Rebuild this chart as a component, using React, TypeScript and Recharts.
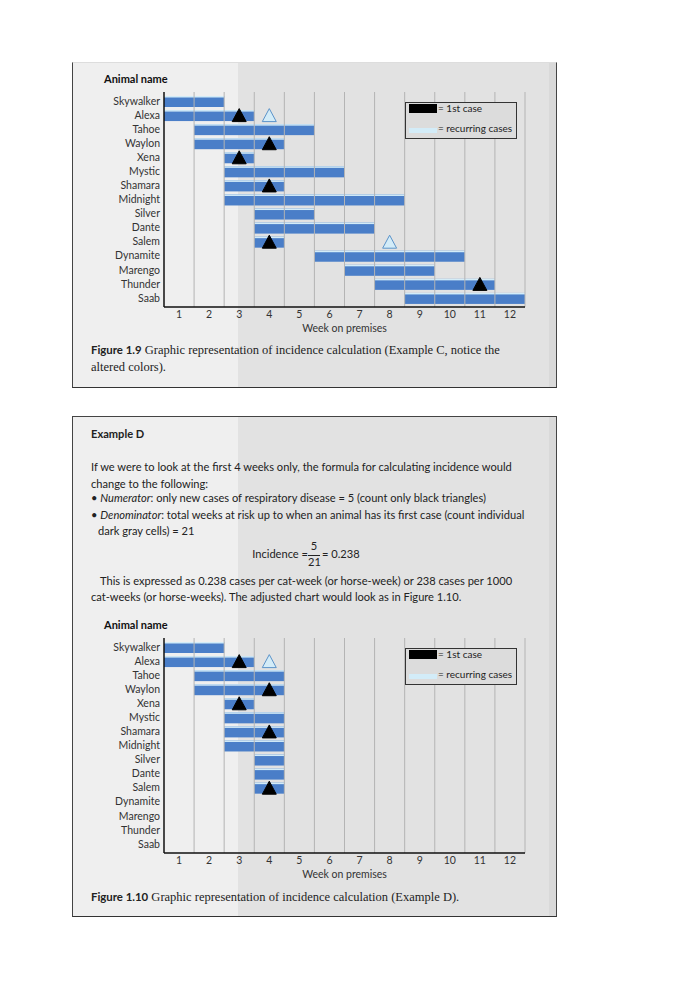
import React from 'react';
import { ComposedChart, Bar, Scatter, XAxis, YAxis, ReferenceLine } from 'recharts';

const animals = ['Skywalker', 'Alexa', 'Tahoe', 'Waylon', 'Xena', 'Mystic', 'Shamara', 'Midnight', 'Silver', 'Dante', 'Salem', 'Dynamite', 'Marengo', 'Thunder', 'Saab'];
const weeks = [1, 2, 3, 4, 5, 6, 7, 8, 9, 10, 11, 12];

// Figure 1.9 - first and last week on premises
const startWeek = [1, 1, 2, 2, 3, 3, 3, 3, 4, 4, 4, 6, 7, 8, 9];
const endWeek19 = [2, 3, 5, 4, 3, 6, 4, 8, 5, 7, 4, 10, 9, 11, 12];
// Figure 1.10 - only up to week 4
const endWeek110 = [2, 3, 4, 4, 3, 4, 4, 4, 4, 4, 4, null, null, null, null];

const firstCase19 = [
  { name: 'Alexa', week: 3 },
  { name: 'Waylon', week: 4 },
  { name: 'Xena', week: 3 },
  { name: 'Shamara', week: 4 },
  { name: 'Salem', week: 4 },
  { name: 'Thunder', week: 11 },
];
const recurring19 = [
  { name: 'Alexa', week: 4 },
  { name: 'Salem', week: 8 },
];
const firstCase110 = firstCase19.filter(d => d.week <= 4);
const recurring110 = recurring19.filter(d => d.week <= 4);

const SANS = 'Lato, "Open Sans", sans-serif';
const SERIF = '"Liberation Serif", "DejaVu Serif", serif';
const BAR = '#4a7ec8';
const LIGHT = '#d3ecf8';

const rows = (ends: (number | null)[]) =>
  animals.map((name, i) => ({
    name,
    span: ends[i] == null ? null : [startWeek[i] - 0.5, (ends[i] as number) + 0.5],
  }));

const BarShape = (props: any) => {
  const { x, y, width, height } = props;
  if (!width || width <= 0) return null;
  return (
    <g>
      <rect x={x} y={y} width={width} height={height} fill={BAR} />
      <rect x={x} y={y} width={width} height={1.5} fill={LIGHT} />
    </g>
  );
};

const Tri = (fill: string, stroke: string) => (props: any) => {
  const { cx, cy } = props;
  if (cx == null || cy == null) return null;
  const pts = `${cx},${cy - 6.5} ${cx - 7},${cy + 6.5} ${cx + 7},${cy + 6.5}`;
  return <polygon points={pts} fill={fill} stroke={stroke} strokeWidth={1} />;
};

const LegendBox = ({ top }: { top: number }) => (
  <div style={{ position: 'absolute', left: 405, top, width: 112, height: 37, background: '#dcdcdc', border: '1px solid #333', boxSizing: 'border-box', fontFamily: SANS, fontSize: 10, color: '#222', whiteSpace: 'nowrap' }}>
    <div style={{ position: 'absolute', left: 3, top: 1, width: 28, height: 9, background: '#000' }} />
    <div style={{ position: 'absolute', left: 32, top: -1 }}>= 1st case</div>
    <div style={{ position: 'absolute', left: 3, top: 25, width: 28, height: 5, background: LIGHT }} />
    <div style={{ position: 'absolute', left: 32, top: 19 }}>= recurring cases</div>
  </div>
);

function Gantt({ ends, first, recurring, top }: { ends: (number | null)[]; first: any[]; recurring: any[]; top: number }) {
  return (
    <div style={{ position: 'absolute', left: 0, top, width: 696, height: 280 }}>
      <div style={{ position: 'absolute', left: 104, top: 2, fontFamily: SANS, fontWeight: 700, fontSize: 11, color: '#111' }}>Animal name</div>
      <ComposedChart width={696} height={280} layout="vertical" data={rows(ends)}
        margin={{ top: 22, right: 171, left: 74, bottom: 13 }}>
        <XAxis type="number" domain={[0.5, 12.5]} ticks={weeks} allowDataOverflow
          axisLine={{ stroke: '#111', strokeWidth: 1.5 }} tickLine={false} tickSize={0}
          tick={{ fontSize: 10.5, fill: '#333', fontFamily: SANS }} tickMargin={4} height={30}
          label={{ value: 'Week on premises', position: 'insideBottom', offset: 5, fontSize: 10.5, fill: '#333', fontFamily: SANS }} />
        <YAxis type="category" dataKey="name" allowDuplicatedCategory={false} width={90}
          padding={{ top: 2, bottom: 2 }}
          axisLine={{ stroke: '#111', strokeWidth: 1.5 }} tickLine={false} tickSize={0} interval={0}
          tick={{ fontSize: 10.5, fill: '#333', fontFamily: SANS }} tickMargin={4} />
        {weeks.map(w => (
          <ReferenceLine key={w} x={w + 0.5} stroke="#b4b4b4" strokeWidth={1} />
        ))}
        <Bar dataKey="span" barSize={11} shape={<BarShape />} isAnimationActive={false} />
        <Scatter data={recurring} dataKey="week" shape={Tri(LIGHT, '#5b93c9')} isAnimationActive={false} />
        <Scatter data={first} dataKey="week" shape={Tri('#000', '#000')} isAnimationActive={false} />
      </ComposedChart>
    </div>
  );
}

const boxStyle = (top: number, height: number): React.CSSProperties => ({
  position: 'absolute', left: 72, top, width: 485, height,
  background: 'linear-gradient(to right, #efefef 0px, #efefef 165px, #e2e2e2 165px, #e2e2e2 476px, #d9d9d9 476px)',
  borderLeft: '1.5px solid #444', borderRight: '1.5px solid #444', borderBottom: '1.5px solid #333',
  boxSizing: 'border-box',
});

const text: React.CSSProperties = { position: 'absolute', fontFamily: SANS, fontSize: 11.1, color: '#222', whiteSpace: 'nowrap' };
const cap: React.CSSProperties = { position: 'absolute', fontFamily: SERIF, fontSize: 12.5, color: '#222', whiteSpace: 'nowrap' };

export default function App() {
  return (
    <div style={{ position: 'absolute', left: 0, top: 0, width: 696, height: 1000, background: '#fff', overflow: 'hidden' }}>
      <div style={{ ...boxStyle(62, 326), borderTop: '1px solid #ddd' }} />
      <div style={{ ...boxStyle(416, 501), borderTop: '1.5px solid #444' }} />

      <Gantt ends={endWeek19} first={firstCase19} recurring={recurring19} top={70} />
      <LegendBox top={102} />

      <div style={{ ...cap, left: 91, top: 343 }}>
        <span style={{ fontFamily: SANS, fontWeight: 700, fontSize: 11.4 }}>Figure 1.9</span>{'  '}Graphic representation of incidence calculation (Example C, notice the
      </div>
      <div style={{ ...cap, left: 91, top: 360 }}>altered colors).</div>

      <div style={{ ...text, left: 91, top: 427, fontWeight: 700 }}>Example D</div>
      <div style={{ ...text, left: 91, top: 460 }}>If we were to look at the first 4 weeks only, the formula for calculating incidence would</div>
      <div style={{ ...text, left: 91, top: 477 }}>change to the following:</div>
      <div style={{ ...text, left: 91, top: 491 }}>• <i>Numerator</i>: only new cases of respiratory disease = 5 (count only black triangles)</div>
      <div style={{ ...text, left: 91, top: 508 }}>• <i>Denominator</i>: total weeks at risk up to when an animal has its first case (count individual</div>
      <div style={{ ...text, left: 98, top: 524 }}>dark gray cells) = 21</div>
      <div style={{ ...text, left: 200, top: 547, width: 108, textAlign: 'right' }}>Incidence =</div>
      <div style={{ ...text, left: 308, top: 539, width: 12, textAlign: 'center' }}>5</div>
      <div style={{ position: 'absolute', left: 308, top: 555, width: 12, height: 1, background: '#222' }} />
      <div style={{ ...text, left: 308, top: 555, width: 12, textAlign: 'center' }}>21</div>
      <div style={{ ...text, left: 322, top: 547 }}>= 0.238</div>
      <div style={{ ...text, left: 100, top: 574 }}>This is expressed as 0.238 cases per cat-week (or horse-week) or 238 cases per 1000</div>
      <div style={{ ...text, left: 91, top: 590 }}>cat-weeks (or horse-weeks). The adjusted chart would look as in Figure 1.10.</div>

      <Gantt ends={endWeek110} first={firstCase110} recurring={recurring110} top={616} />
      <LegendBox top={648} />

      <div style={{ ...cap, left: 91, top: 890 }}>
        <span style={{ fontFamily: SANS, fontWeight: 700, fontSize: 11.4 }}>Figure 1.10</span>{'  '}Graphic representation of incidence calculation (Example D).
      </div>
    </div>
  );
}
